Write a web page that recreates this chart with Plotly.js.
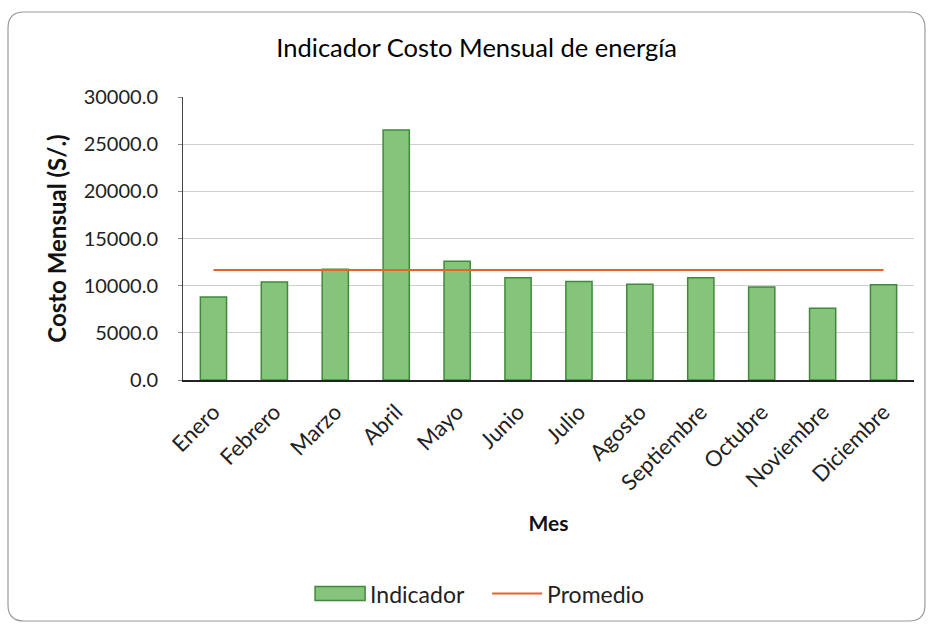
<!DOCTYPE html>
<html>
<head>
<meta charset="utf-8">
<script src="https://cdn.plot.ly/plotly-3.0.1.min.js"></script>
<style>html,body{margin:0;padding:0;background:#fff;}#chart{width:931px;height:627px;}</style>
</head>
<body>
<div id="chart"></div>
<script>
const meses = ["Enero","Febrero","Marzo","Abril","Mayo","Junio","Julio","Agosto","Septiembre","Octubre","Noviembre","Diciembre"];
const indicador = [8800, 10400, 11750, 26500, 12600, 10850, 10450, 10150, 10850, 9850, 7600, 10100];
const promedio = [11660, 11660, 11660, 11660, 11660, 11660, 11660, 11660, 11660, 11660, 11660, 11660];
const yTicks = [0, 5000, 10000, 15000, 20000, 25000, 30000];

const W = 931, H = 627, L = 183, R = 17, T = 97, B = 247;
const pw = W - L - R, ph = H - T - B;
function px(x){ return ((x - L) / pw).toFixed(4); }
function py(y){ return ((H - B - y) / ph).toFixed(4); }
const fx0 = 8, fy0 = 12, fx1 = 925, fy1 = 621, rr = 16;
const framePath = "M" + px(fx0 + rr) + "," + py(fy0) +
  " L" + px(fx1 - rr) + "," + py(fy0) +
  " Q" + px(fx1) + "," + py(fy0) + " " + px(fx1) + "," + py(fy0 + rr) +
  " L" + px(fx1) + "," + py(fy1 - rr) +
  " Q" + px(fx1) + "," + py(fy1) + " " + px(fx1 - rr) + "," + py(fy1) +
  " L" + px(fx0 + rr) + "," + py(fy1) +
  " Q" + px(fx0) + "," + py(fy1) + " " + px(fx0) + "," + py(fy1 - rr) +
  " L" + px(fx0) + "," + py(fy0 + rr) +
  " Q" + px(fx0) + "," + py(fy0) + " " + px(fx0 + rr) + "," + py(fy0) + " Z";

const FONT = "Lato, 'Open Sans', sans-serif";
const ITEMW = 50;

const data = [
  {
    type: "bar", name: "Indicador", x: meses, y: indicador,
    marker: { color: "#86c47c", line: { color: "#3f8a3a", width: 1.5 } },
    hoverinfo: "x+y"
  },
  {
    type: "scatter", mode: "lines", name: "Promedio", x: meses, y: promedio,
    line: { color: "#ea5f2a", width: 2 }
  }
];

const layout = {
  width: W, height: H,
  margin: { l: L, r: R, t: T, b: B },
  paper_bgcolor: "#ffffff", plot_bgcolor: "#ffffff",
  font: { family: FONT, color: "#222", size: 20 },
  title: { text: "Indicador Costo Mensual de energía", x: 0.512, xanchor: "center", y: 0.923, yanchor: "middle",
           font: { family: FONT, size: 25.5, color: "#000" } },
  bargap: 0.57,
  showlegend: true,
  legend: { orientation: "h", x: 0.416, xanchor: "center", y: -0.755, yanchor: "middle",
            font: { family: FONT, size: 23, color: "#222" }, itemwidth: ITEMW, entrywidth: 112,
            entrywidthmode: "pixels", bgcolor: "rgba(0,0,0,0)" },
  xaxis: {
    type: "category", tickangle: -45, tickfont: { family: FONT, size: 22, color: "#222" },
    showline: true, linecolor: "#222", linewidth: 1.5, ticks: "", showgrid: false, ticklabelstandoff: 9,
    title: { text: "Mes", font: { family: FONT, size: 21, color: "#111", weight: 700 }, standoff: 22 }
  },
  yaxis: {
    range: [0, 30000], tickvals: yTicks, ticktext: yTicks.map(v => v.toFixed(1)),
    tickfont: { family: FONT, size: 20, color: "#222" },
    showline: true, linecolor: "#444", linewidth: 1, ticks: "outside", ticklen: 4, tickcolor: "#888",
    gridcolor: "#cfcfcf", gridwidth: 1, zeroline: false, ticklabelstandoff: 16,
    title: { text: "Costo Mensual (S/.)", font: { family: FONT, size: 24, color: "#111", weight: 700 }, standoff: 10 }
  },
  shapes: [
    { type: "path", xref: "paper", yref: "paper", path: framePath,
      line: { color: "#9a9a9a", width: 1.2 }, fillcolor: "rgba(0,0,0,0)", layer: "below" }
  ]
};

Plotly.newPlot("chart", data, layout, { displayModeBar: false, staticPlot: true }).then(function(gd){
  // widen the bar legend swatch to a wide rectangle like the original
  const hw = ITEMW / 2;
  gd.querySelectorAll(".legend .legendpoints path.legendundefined, .legend .legendbar path").forEach(function(p){
    p.setAttribute("d", "M" + hw + ",7H-" + hw + "V-7H" + hw + "Z");
  });
});
</script>
</body>
</html>
